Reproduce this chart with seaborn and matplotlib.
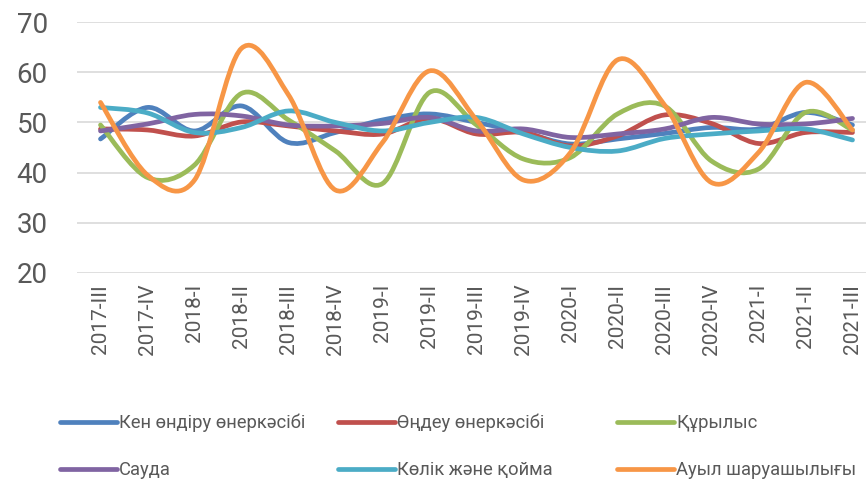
import numpy as np
import matplotlib.pyplot as plt
import seaborn as sns
from matplotlib.path import Path
from matplotlib.patches import PathPatch
from matplotlib.lines import Line2D

# data
quarters = ["2017-III", "2017-IV", "2018-I", "2018-II", "2018-III", "2018-IV",
            "2019-I", "2019-II", "2019-III", "2019-IV", "2020-I", "2020-II",
            "2020-III", "2020-IV", "2021-I", "2021-II", "2021-III"]

mining = [46.7, 53.0, 48.3, 53.3, 46.0, 48.0, 50.5, 51.7, 50.0, 48.0, 45.7, 46.7, 47.8, 49.0, 48.7, 52.0, 49.5]
manufacturing = [48.7, 48.5, 47.3, 50.1, 49.3, 48.3, 47.7, 50.8, 47.7, 48.0, 45.3, 47.3, 51.5, 49.8, 45.8, 48.0, 48.0]
construction = [49.5, 39.0, 41.5, 55.8, 50.5, 44.3, 37.8, 56.0, 49.5, 42.7, 43.0, 51.7, 53.3, 42.3, 40.7, 52.0, 48.5]
trade = [48.3, 49.7, 51.6, 51.3, 49.5, 49.3, 49.8, 51.0, 48.3, 48.7, 47.0, 47.7, 48.7, 51.0, 49.7, 49.7, 50.8]
transport = [53.0, 51.9, 48.0, 49.0, 52.3, 50.0, 48.3, 50.0, 51.0, 47.7, 45.0, 44.3, 46.8, 47.7, 48.3, 48.7, 46.5]
agriculture = [54.0, 39.5, 38.5, 64.8, 55.5, 36.5, 46.0, 60.3, 50.5, 38.5, 44.0, 62.5, 53.5, 38.0, 44.0, 58.0, 48.5]

names = ["Кен өндіру өнеркәсібі", "Өңдеу өнеркәсібі", "Құрылыс",
         "Сауда", "Көлік және қойма", "Ауыл шаруашылығы"]
series = [mining, manufacturing, construction, trade, transport, agriculture]

#formatting
sns.set_theme(style="whitegrid")
plt.rcParams['font.family'] = ['Roboto', 'DejaVu Sans']
colors = sns.color_palette(["#4F81BD", "#C0504D", "#9BBB59", "#8064A2", "#4BACC6", "#F79646"])
text_col = "#595959"


def smooth_path(y):
    # Excel-style smoothed line: Catmull-Rom segments as cubic Beziers
    x = np.arange(len(y), dtype=float)
    p = np.column_stack([x, np.asarray(y, dtype=float)])
    verts = [p[0]]
    codes = [Path.MOVETO]
    n = len(p)
    for i in range(n - 1):
        p0 = p[i - 1] if i > 0 else p[i]
        p3 = p[i + 2] if i + 2 < n else p[i + 1]
        c1 = p[i] + (p[i + 1] - p0) / 6
        c2 = p[i + 1] - (p3 - p[i]) / 6
        verts += [c1, c2, p[i + 1]]
        codes += [Path.CURVE4] * 3
    return Path(verts, codes)


fig = plt.figure(figsize=(8.66, 4.8), dpi=100)
ax = fig.add_axes([77 / 866, 1 - 272.7 / 480, (876 - 77) / 866, (272.7 - 22.3) / 480])

for vals, col in zip(series, colors):
    patch = PathPatch(smooth_path(vals), facecolor="none", edgecolor=col, lw=3.4,
                      capstyle="round", joinstyle="round", transform=ax.transData)
    ax.add_patch(patch)

ax.set_xlim(-0.5, len(quarters) - 0.5)
ax.set_ylim(20, 70)
ax.set_yticks(range(20, 71, 10))
ax.set_xticks(range(len(quarters)))
ax.set_xticklabels(quarters, rotation=90, va="top")
ax.grid(axis="y", color="#D9D9D9", lw=1.2)
ax.grid(axis="x", visible=False)
sns.despine(ax=ax, left=True, bottom=True)
ax.tick_params(axis="y", length=0, pad=21, labelsize=20, labelcolor=text_col)
ax.tick_params(axis="x", length=0, pad=8, labelsize=15, labelcolor=text_col)

# legend laid out like the original, one entry per slot
legend_x = [60 / 866, 338 / 866, 617 / 866]
legend_y = [1 - 423 / 480, 1 - 470 / 480]
for k, (name, col) in enumerate(zip(names, colors)):
    h = Line2D([], [], color=col, lw=3.4, solid_capstyle="round")
    leg = fig.legend([h], [name], loc="center left",
                     bbox_to_anchor=(legend_x[k % 3], legend_y[k // 3]),
                     frameon=False, fontsize=13.2, handlelength=3.1,
                     handletextpad=0.12, borderpad=0, borderaxespad=0)
    for t in leg.get_texts():
        t.set_color(text_col)

fig.savefig("out.png", dpi=100)
